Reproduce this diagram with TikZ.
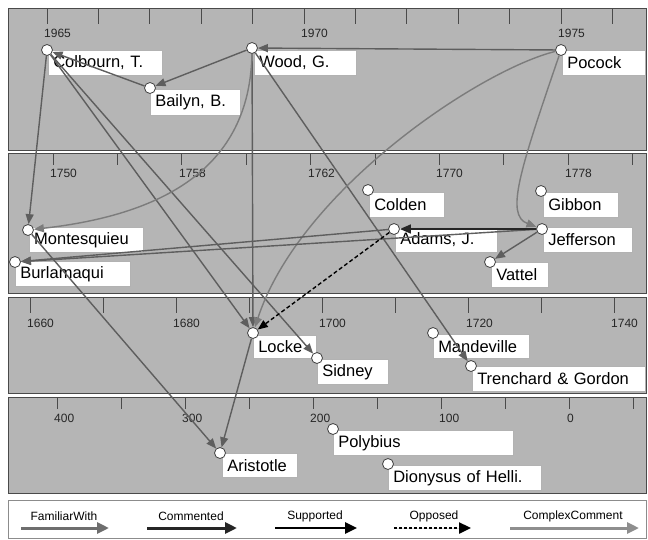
\documentclass[tikz,border=0pt]{standalone}
\usepackage{fontspec}
\setmainfont{Liberation Sans}
\usetikzlibrary{arrows.meta}

\definecolor{panelgray}{HTML}{B5B5B5}
\definecolor{framegray}{HTML}{4A4A4A}
\definecolor{famgray}{HTML}{5E5E5E}
\definecolor{cpxgray}{HTML}{7C7C7C}
\definecolor{comgray}{HTML}{262626}
\definecolor{legfamgray}{HTML}{6E6E6E}
\definecolor{legcpxgray}{HTML}{8E8E8E}

\tikzset{
  panel/.style={fill=panelgray, draw=framegray, line width=0.9pt},
  axistick/.style={draw=framegray, line width=0.9pt},
  yearlbl/.style={anchor=west, inner sep=0pt, font=\fontsize{12}{12}\selectfont, text=black!85},
  dot/.style={circle, draw=black!75, fill=white, line width=0.8pt, minimum size=11pt, inner sep=0pt},
  namebox/.style={anchor=north west, draw=black!30, fill=white, line width=0.5pt,
    inner xsep=5pt, inner ysep=0pt, minimum height=25pt, text width=#1, align=left,
    font=\fontsize{16.5}{18}\selectfont},
  fam/.style={draw=famgray, line width=1.4pt, -{Triangle[length=10pt,width=8pt]}},
  cpx/.style={draw=cpxgray, line width=1.4pt, -{Triangle[length=10pt,width=8pt]}},
  com/.style={draw=comgray, line width=1.6pt, -{Triangle[length=11pt,width=9pt]}},
  opp/.style={draw=black, line width=1.4pt, dash pattern=on 4pt off 2.5pt, -{Triangle[length=10pt,width=8pt]}},
  legtxt/.style={inner sep=0pt, font=\fontsize{12}{12}\selectfont},
  legarrow/.style={line width=3pt, -{Triangle[length=12pt,width=11pt]}},
}

\begin{document}
\begin{tikzpicture}[x=1pt, y=-1pt]
\useasboundingbox (0,0) rectangle (648,539);
\fill[white] (0,0) rectangle (648,539);

% ---- time bands ----
\draw[panel] (8,8) rectangle (646,150);
\draw[panel] (8,153) rectangle (646,293);
\draw[panel] (8,297) rectangle (646,393);
\draw[panel] (8,397) rectangle (646,493);

% band 1: 1965-1976
\foreach \k in {0,...,11} \draw[axistick] ({47+51.4*\k},8) -- ({47+51.4*\k},24);
\node[yearlbl] at (44,33) {1965};
\node[yearlbl] at (301,33) {1970};
\node[yearlbl] at (558,33) {1975};

% band 2: 1750-1780
\foreach \k in {0,...,9} \draw[axistick] ({53+64.4*\k},153) -- ({53+64.4*\k},165);
\node[yearlbl] at (50,173) {1750};
\node[yearlbl] at (179,173) {1758};
\node[yearlbl] at (308,173) {1762};
\node[yearlbl] at (436,173) {1770};
\node[yearlbl] at (565,173) {1778};

% band 3: 1660-1740
\foreach \k in {0,...,8} \draw[axistick] ({30+73.1*\k},297) -- ({30+73.1*\k},313);
\node[yearlbl] at (27,323) {1660};
\node[yearlbl] at (173,323) {1680};
\node[yearlbl] at (319,323) {1700};
\node[yearlbl] at (466,323) {1720};
\node[yearlbl] at (611,323) {1740};

% band 4: antiquity
\foreach \k in {0,...,9} \draw[axistick] ({57+64.1*\k},397) -- ({57+64.1*\k},409);
\node[yearlbl] at (54,418) {400};
\node[yearlbl] at (182,418) {300};
\node[yearlbl] at (310,418) {200};
\node[yearlbl] at (439,418) {100};
\node[yearlbl] at (567,418) {0};

% ---- name labels ----
\node[namebox=104pt] (colbournL) at (48,50) {Colbourn, T.};
\node[namebox=92pt]  (woodL) at (254,50) {Wood, G.};
\node[namebox=80pt, minimum height=26pt] (bailynL) at (150,89) {Bailyn, B.};
\node[namebox=73pt]  (pocockL) at (562,50) {Pocock};

\node[namebox=104pt] (montesquieuL) at (29,227) {Montesquieu};
\node[namebox=105pt] (burlamaquiL) at (15,261) {Burlamaqui};
\node[namebox=65pt]  (coldenL) at (369,192) {Colden};
\node[namebox=65pt]  (gibbonL) at (543,192) {Gibbon};
\node[namebox=92pt]  (adamsL) at (395,227) {Adams, J.};
\node[namebox=79pt]  (jeffersonL) at (543,227) {Jefferson};
\node[namebox=47pt]  (vattelL) at (491,262) {Vattel};

\node[namebox=53pt, minimum height=23pt] (lockeL) at (253,335) {Locke};
\node[namebox=61pt]  (sidneyL) at (317,359) {Sidney};
\node[namebox=86pt, minimum height=24pt] (mandevilleL) at (433,334) {Mandeville};
\node[namebox=163pt] (trenchardL) at (472,366) {Trenchard \& Gordon};

\node[namebox=65pt, minimum height=24pt] (aristotleL) at (222,453) {Aristotle};
\node[namebox=170pt] (polybiusL) at (333,430) {Polybius};
\node[namebox=143pt] (dionysusL) at (388,465) {Dionysus of Helli.};

% ---- author markers ----
\node[dot] (colbourn) at (47,50) {};
\node[dot] (wood) at (252,48) {};
\node[dot] (bailyn) at (150,88) {};
\node[dot] (pocock) at (561,50) {};
\node[dot] (montesquieu) at (28,230) {};
\node[dot] (burlamaqui) at (15,262) {};
\node[dot] (colden) at (368,190) {};
\node[dot] (gibbon) at (541,191) {};
\node[dot] (adams) at (394,229) {};
\node[dot] (jefferson) at (542,229) {};
\node[dot] (vattel) at (490,262) {};
\node[dot] (locke) at (253,333) {};
\node[dot] (sidney) at (317,358) {};
\node[dot] (mandeville) at (433,333) {};
\node[dot] (trenchard) at (471,366) {};
\node[dot] (aristotle) at (220,453) {};
\node[dot] (polybius) at (333,429) {};
\node[dot] (dionysus) at (388,464) {};

% ---- relations ----
\draw[fam] (pocock) -- (wood);
\draw[fam] (wood) -- (bailyn);
\draw[fam] (bailyn) -- (colbourn);
\draw[fam] (colbourn) -- (montesquieu);
\draw[fam] (colbourn) -- (locke);
\draw[fam] (colbourn) -- (sidney);
\draw[fam] (wood) -- (locke);
\draw[fam] (wood) -- (trenchard);
\draw[cpx] (wood) .. controls (250,170) and (160,215) .. (montesquieu);
\draw[cpx] (pocock) .. controls (480,70) and (300,190) .. (locke);
\draw[cpx] (pocock) .. controls (520,170) and (505,215) .. (jefferson);
\draw[fam] (adams) -- (burlamaqui);
\draw[fam] (jefferson) -- (burlamaqui);
\draw[fam] (jefferson) -- (vattel);
\draw[com] (jefferson) -- (adams);
\draw[opp] (adams) -- (locke);
\draw[fam] (locke) -- (aristotle);
\draw[fam] (montesquieu) -- (aristotle);

% ---- legend ----
\draw[draw=black!45, fill=white, line width=0.8pt] (8,500) rectangle (646,538);
\node[legtxt] (lgfam) at (64,516) {FamiliarWith};
\node[legtxt] (lgcom) at (191,516) {Commented};
\node[legtxt] (lgsup) at (315,516) {Supported};
\node[legtxt] (lgopp) at (434,516) {Opposed};
\node[legtxt] (lgcpx) at (573,516) {ComplexComment};
\coordinate (lgfamA) at (21,528);  \coordinate (lgfamB) at (109,528);
\coordinate (lgcomA) at (147,528); \coordinate (lgcomB) at (237,528);
\coordinate (lgsupA) at (275,528); \coordinate (lgsupB) at (357,528);
\coordinate (lgoppA) at (394,528); \coordinate (lgoppB) at (471,528);
\coordinate (lgcpxA) at (510,528); \coordinate (lgcpxB) at (639,528);
\draw[legarrow, draw=legfamgray, fill=legfamgray] (lgfamA) -- (lgfamB);
\draw[legarrow, draw=black!85, fill=black!85] (lgcomA) -- (lgcomB);
\draw[legarrow, draw=black, fill=black, line width=2.6pt] (lgsupA) -- (lgsupB);
\draw[legarrow, draw=black, fill=black, line width=2.4pt, dash pattern=on 3pt off 2pt] (lgoppA) -- (lgoppB);
\draw[legarrow, draw=legcpxgray, fill=legcpxgray] (lgcpxA) -- (lgcpxB);
\end{tikzpicture}
\end{document}
